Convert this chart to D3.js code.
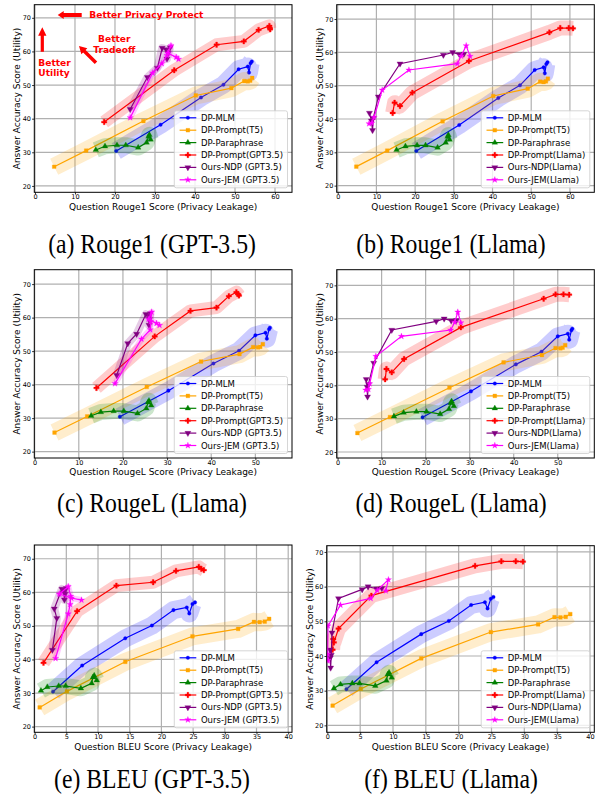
<!DOCTYPE html>
<html><head><meta charset="utf-8">
<script src="https://cdn.jsdelivr.net/npm/d3@7"></script>
<style>body{margin:0;background:#fff}</style>
</head><body>
<svg id="chart" width="601" height="794"></svg>
<script>
// ---------------- DATA ----------------
const yTicks = [20, 30, 40, 50, 60, 70];
const rouge1Ticks = [0, 10, 20, 30, 40, 50, 60];
const rougeLTicks = [0, 10, 20, 30, 40, 50];
const bleuTicks = [0, 5, 10, 15, 20, 25, 30, 35, 40];

// shared baselines (y = answer accuracy)
const mlmY = [30.4, 38.2, 46.3, 50.1, 54.7, 55.5, 53.7, 56.5, 57.0];
const mlmXRouge1 = [20.3, 31.4, 41.5, 47.1, 50.9, 53.2, 53.5, 53.9, 54.2];
const mlmXRougeL = [19.3, 30.3, 40.5, 46.3, 50.0, 52.3, 52.6, 53.1, 53.3];
const mlmXBleu = [2.9, 7.5, 14.3, 18.5, 21.9, 24.0, 24.4, 24.9, 25.3];

const t5Y = [25.7, 30.5, 39.3, 46.9, 49.1, 51.2, 51.1, 51.3, 52.1];
const t5XRouge1 = [4.8, 12.8, 27.1, 40.2, 49.1, 52.3, 53.2, 53.8, 54.3];
const t5XRougeL = [4.5, 11.9, 25.4, 37.7, 46.4, 49.5, 50.6, 51.1, 51.7];
const t5XBleu = [0.8, 5.1, 14.3, 24.9, 32.1, 34.6, 35.5, 36.3, 37.0];

const paraY = [30.7, 31.8, 32.1, 32.1, 31.4, 32.9, 34.7, 35.2, 33.8];
const paraXRouge1 = [15.2, 17.5, 20.5, 22.7, 25.8, 27.9, 28.4, 28.6, 28.9];
const paraXRougeL = [12.8, 15.0, 17.9, 20.2, 23.3, 25.3, 25.7, 25.9, 26.4];
const paraXBleu = [1.0, 2.0, 3.8, 4.9, 7.3, 9.0, 9.2, 9.4, 9.8];

// GPT-3.5
const gptY = [39.0, 54.4, 62.0, 63.0, 66.4, 67.6, 67.0, 66.6];
const gptXRouge1 = [17.3, 34.8, 45.4, 52.2, 55.9, 58.6, 58.7, 58.8];
const gptXRougeL = [14.0, 27.2, 35.3, 41.2, 44.0, 45.7, 46.1, 46.3];
const gptXBleu = [1.4, 6.7, 12.9, 18.7, 22.3, 25.9, 26.3, 26.7];

const ndpGptY = [42.8, 52.3, 55.1, 61.0, 60.6, 57.8, 59.5, 61.2];
const ndpGptXRouge1 = [23.8, 28.1, 30.6, 31.8, 32.8, 33.0, 33.3, 33.8];
const ndpGptXRougeL = [18.6, 21.1, 23.1, 25.2, 25.8, 25.9, 26.0, 26.2];
const ndpGptXBleu = [2.8, 3.5, 3.1, 4.3, 4.6, 4.7, 4.8, 5.0];

const jemGptY = [40.3, 53.6, 56.4, 58.8, 61.7, 59.5, 58.3, 57.7];
const jemGptXRouge1 = [23.8, 29.4, 31.7, 33.0, 34.0, 33.2, 35.3, 35.9];
const jemGptXRougeL = [18.2, 24.2, 26.2, 26.3, 26.5, 25.8, 27.6, 28.3];
const jemGptXBleu = [3.3, 5.3, 5.6, 5.7, 5.3, 3.9, 5.8, 7.4];

// Llama
const llamaY = [41.8, 44.9, 43.9, 47.9, 57.4, 66.0, 67.3, 67.3, 67.2];
const llamaXRouge1 = [14.2, 14.7, 16.1, 19.3, 33.9, 54.7, 57.5, 59.7, 60.8];
const llamaXRougeL = [10.8, 11.1, 12.3, 15.1, 28.0, 46.8, 49.5, 51.3, 52.6];
const llamaXBleu = [0.8, 0.9, 1.0, 1.7, 6.7, 22.5, 26.5, 28.7, 29.8];

const ndpLlamaY = [41.8, 39.5, 36.6, 40.3, 46.7, 56.6, 59.2, 60.0, 59.4, 59.5];
const ndpLlamaXRouge1 = [8.2, 8.7, 9.0, 9.2, 10.5, 16.1, 27.3, 29.7, 31.4, 32.6];
const ndpLlamaXRougeL = [6.5, 6.7, 6.8, 7.0, 8.2, 12.3, 22.4, 24.2, 25.8, 27.0];
const ndpLlamaXBleu = [0.4, 0.45, 0.5, 0.6, 0.7, 1.7, 5.3, 6.2, 7.5, 8.3];

const jemLlamaY = [38.6, 38.8, 40.5, 48.7, 54.7, 56.6, 58.9, 62.0, 58.8];
const jemLlamaXRouge1 = [8.1, 8.8, 9.4, 11.5, 18.4, 30.9, 31.9, 33.2, 34.2];
const jemLlamaXRougeL = [6.4, 7.0, 7.3, 8.7, 14.5, 25.7, 26.6, 27.3, 28.0];
const jemLlamaXBleu = [0.0, 0.1, 0.05, 0.1, 2.0, 6.6, 7.6, 9.3, 8.9];

const legendGpt = ["DP-MLM", "DP-Prompt(T5)", "DP-Paraphrase", "DP-Prompt(GPT3.5)", "Ours-NDP (GPT3.5)", "Ours-JEM (GPT3.5)"];
const legendLlama = ["DP-MLM", "DP-Prompt(T5)", "DP-Paraphrase", "DP-Prompt(Llama)", "Ours-NDP(Llama)", "Ours-JEM(Llama)"];
const captions = ["(a) Rouge1 (GPT-3.5)", "(b) Rouge1 (Llama)", "(c) RougeL (Llama)", "(d) RougeL (Llama)", "(e) BLEU (GPT-3.5)", "(f) BLEU (Llama)"];
const xLabels = {Rouge1: "Question Rouge1 Score (Privacy Leakage)", RougeL: "Question RougeL Score (Privacy Leakage)", BLEU: "Question BLEU Score (Privacy Leakage)"};
const yLabel = "Answer Accuracy Score (Utility)";

// ---------------- LOOKUPS ----------------
const mlmX = {Rouge1: mlmXRouge1, RougeL: mlmXRougeL, BLEU: mlmXBleu};
const t5X = {Rouge1: t5XRouge1, RougeL: t5XRougeL, BLEU: t5XBleu};
const paraX = {Rouge1: paraXRouge1, RougeL: paraXRougeL, BLEU: paraXBleu};
const gptX = {Rouge1: gptXRouge1, RougeL: gptXRougeL, BLEU: gptXBleu};
const ndpGptX = {Rouge1: ndpGptXRouge1, RougeL: ndpGptXRougeL, BLEU: ndpGptXBleu};
const jemGptX = {Rouge1: jemGptXRouge1, RougeL: jemGptXRougeL, BLEU: jemGptXBleu};
const llamaX = {Rouge1: llamaXRouge1, RougeL: llamaXRougeL, BLEU: llamaXBleu};
const ndpLlamaX = {Rouge1: ndpLlamaXRouge1, RougeL: ndpLlamaXRougeL, BLEU: ndpLlamaXBleu};
const jemLlamaX = {Rouge1: jemLlamaXRouge1, RougeL: jemLlamaXRougeL, BLEU: jemLlamaXBleu};
const tickSets = {Rouge1: rouge1Ticks, RougeL: rougeLTicks, BLEU: bleuTicks};

function seriesFor(metric, llm) {
  const lab = llm === "gpt" ? legendGpt : legendLlama;
  const s = [
    {x: mlmX[metric], y: mlmY, color: "#0000ff", sym: "circle", band: 18},
    {x: t5X[metric], y: t5Y, color: "#ffa500", sym: "square", band: 18},
    {x: paraX[metric], y: paraY, color: "#008000", sym: "tri", band: 16}
  ];
  if (llm === "gpt") {
    s.push({x: gptX[metric], y: gptY, color: "#ff0000", sym: "plus", band: 13});
    s.push({x: ndpGptX[metric], y: ndpGptY, color: "#800080", sym: "trid", band: 8});
    s.push({x: jemGptX[metric], y: jemGptY, color: "#ff00ff", sym: "star", band: 6});
  } else {
    s.push({x: llamaX[metric], y: llamaY, color: "#ff0000", sym: "plus", band: 15});
    s.push({x: ndpLlamaX[metric], y: ndpLlamaY, color: "#800080", sym: "trid", band: 0});
    s.push({x: jemLlamaX[metric], y: jemLlamaY, color: "#ff00ff", sym: "star", band: 0});
  }
  s.forEach((d, i) => d.label = lab[i]);
  return s;
}

// ---------------- LAYOUT ----------------
const panels = [
  {metric: "Rouge1", llm: "gpt",   L: 34.3,  R: 292,   T: 4.7,   B: 192.3, xd: [-0.17, 64.25], yd: [18.1, 73.9], capX: 152, capY: 252.5},
  {metric: "Rouge1", llm: "llama", L: 336.7, R: 594.3, T: 4.7,   B: 192.3, xd: [-0.26, 66.3],  yd: [18.0, 74.3], capX: 451, capY: 252.5},
  {metric: "RougeL", llm: "gpt",   L: 34.3,  R: 292,   T: 269.7, B: 458,   xd: [-0.08, 58.3],  yd: [18.1, 74.3], capX: 152, capY: 512.3},
  {metric: "RougeL", llm: "llama", L: 336.7, R: 594.3, T: 269.7, B: 458,   xd: [-0.2, 58.3],   yd: [18.2, 74.7], capX: 451, capY: 512.3},
  {metric: "BLEU",   llm: "gpt",   L: 34.3,  R: 292,   T: 545,   B: 732.3, xd: [-0.05, 40.6],  yd: [18.3, 74.1], capX: 152, capY: 788},
  {metric: "BLEU",   llm: "llama", L: 326.7, R: 594.3, T: 545.7, B: 732.3, xd: [-0.1, 40.66],  yd: [18.0, 71.8], capX: 451, capY: 788}
];

const svg = d3.select("#chart");
svg.append("rect").attr("width", 601).attr("height", 794).attr("fill", "#fff");
const defs = svg.append("defs");
const FONT = "DejaVu Sans, Verdana, sans-serif";

const symTypes = {
  circle: d3.symbolCircle, square: d3.symbolSquare, tri: d3.symbolTriangle,
  trid: d3.symbolTriangle, plus: d3.symbolCross, star: d3.symbolStar
};
const symSizes = {circle: 10, square: 14, tri: 14, trid: 16, plus: 16, star: 12};

function drawMarker(g, sym, color, x, y) {
  g.append("path")
    .attr("d", d3.symbol().type(symTypes[sym]).size(symSizes[sym])())
    .attr("transform", `translate(${x},${y})` + (sym === "trid" ? " rotate(180)" : ""))
    .attr("fill", color).attr("stroke", color).attr("stroke-width", 0.3);
}

panels.forEach((p, pi) => {
  const x = d3.scaleLinear().domain(p.xd).range([p.L, p.R]);
  const y = d3.scaleLinear().domain(p.yd).range([p.B, p.T]);
  const g = svg.append("g");
  const clipId = "clip" + pi;
  defs.append("clipPath").attr("id", clipId).append("rect")
    .attr("x", p.L).attr("y", p.T).attr("width", p.R - p.L).attr("height", p.B - p.T);

  const xt = tickSets[p.metric];
  // grid
  const grid = g.append("g").attr("stroke", "#b0b0b0").attr("stroke-width", 1.2);
  xt.forEach(t => grid.append("line").attr("x1", x(t)).attr("x2", x(t)).attr("y1", p.T).attr("y2", p.B));
  yTicks.forEach(t => grid.append("line").attr("x1", p.L).attr("x2", p.R).attr("y1", y(t)).attr("y2", y(t)));

  // axes
  const xAxis = d3.axisBottom(x).tickValues(xt).tickSize(2.2).tickPadding(0.2).tickFormat(d3.format("d"));
  const yAxis = d3.axisLeft(y).tickValues(yTicks).tickSize(2.2).tickPadding(1.2).tickFormat(d3.format("d"));
  const gx = g.append("g").attr("transform", `translate(0,${p.B})`).call(xAxis);
  const gy = g.append("g").attr("transform", `translate(${p.L},0)`).call(yAxis);
  [gx, gy].forEach(a => {
    a.select(".domain").remove();
    a.selectAll("text").attr("font-family", FONT).attr("font-size", 6.5).attr("fill", "#000");
    a.selectAll("line").attr("stroke", "#000").attr("stroke-width", 0.8);
  });

  // data
  const series = seriesFor(p.metric, p.llm);
  const plot = g.append("g").attr("clip-path", `url(#${clipId})`);
  const line = d3.line().x(d => x(d[0])).y(d => y(d[1]));
  series.forEach(s => {
    const pts = s.x.map((v, i) => [v, s.y[i]]);
    if (s.band > 0) {
      plot.append("path").attr("d", line(pts)).attr("fill", "none")
        .attr("stroke", s.color).attr("stroke-opacity", 0.2)
        .attr("stroke-width", s.band).attr("stroke-linejoin", "round").attr("stroke-linecap", "butt");
    }
    plot.append("path").attr("d", line(pts)).attr("fill", "none")
      .attr("stroke", s.color).attr("stroke-width", 1.2);
    pts.forEach(d => drawMarker(plot, s.sym, s.color, x(d[0]), y(d[1])));
  });

  // frame
  g.append("rect").attr("x", p.L).attr("y", p.T).attr("width", p.R - p.L).attr("height", p.B - p.T)
    .attr("fill", "none").attr("stroke", "#000").attr("stroke-width", 1);

  // axis labels
  g.append("text").attr("x", (p.L + p.R) / 2).attr("y", p.B + 17.2)
    .attr("text-anchor", "middle").attr("font-family", FONT).attr("font-size", 9).attr("fill", "#000")
    .text(xLabels[p.metric]);
  g.append("text").attr("transform", `translate(${p.L - 17},${(p.T + p.B) / 2}) rotate(-90)`)
    .attr("text-anchor", "middle").attr("dominant-baseline", "central")
    .attr("font-family", FONT).attr("font-size", 9).attr("fill", "#000").text(yLabel);

  // legend
  const lg = g.append("g");
  const rowH = 12.4;
  const lgH = 7 + 5 * rowH + 8;
  const texts = [];
  const tmp = lg.append("g");
  series.forEach((s, i) => {
    texts.push(tmp.append("text").attr("font-family", FONT).attr("font-size", 8.5).text(s.label));
  });
  const maxW = d3.max(texts, t => t.node().getComputedTextLength());
  tmp.remove();
  const lgW = 26.6 + maxW + 4.5;
  const lx = p.R - 4.5 - lgW, ly = p.B - 4.5 - lgH;
  lg.append("rect").attr("x", lx).attr("y", ly).attr("width", lgW).attr("height", lgH)
    .attr("rx", 2).attr("fill", "#fff").attr("fill-opacity", 0.8)
    .attr("stroke", "#cccccc").attr("stroke-width", 0.8);
  series.forEach((s, i) => {
    const cy = ly + 7 + i * rowH;
    lg.append("line").attr("x1", lx + 5.3).attr("x2", lx + 22).attr("y1", cy).attr("y2", cy)
      .attr("stroke", s.color).attr("stroke-width", 1.2);
    drawMarker(lg, s.sym, s.color, lx + 13.6, cy);
    lg.append("text").attr("x", lx + 26.6).attr("y", cy).attr("dominant-baseline", "central")
      .attr("font-family", FONT).attr("font-size", 8.5).attr("fill", "#000").text(s.label);
  });

  // caption
  svg.append("text").attr("transform", `translate(${p.capX},${p.capY}) scale(1,1.12)`)
    .attr("text-anchor", "middle").attr("font-family", "Liberation Serif, Times New Roman, serif")
    .attr("font-size", 23.7).attr("fill", "#000").text(captions[pi]);
});

// ---------------- ANNOTATIONS (panel a) ----------------
function arrow(x1, y1, x2, y2, sw, hw, hl) {
  const dx = x2 - x1, dy = y2 - y1, len = Math.hypot(dx, dy);
  const ux = dx / len, uy = dy / len, nx = -uy, ny = ux;
  const bx = x2 - ux * hl, by = y2 - uy * hl;
  const pts = [
    [x1 + nx * sw / 2, y1 + ny * sw / 2], [bx + nx * sw / 2, by + ny * sw / 2],
    [bx + nx * hw / 2, by + ny * hw / 2], [x2, y2],
    [bx - nx * hw / 2, by - ny * hw / 2], [bx - nx * sw / 2, by - ny * sw / 2],
    [x1 - nx * sw / 2, y1 - ny * sw / 2]
  ];
  svg.append("polygon").attr("points", pts.map(p => p.join(",")).join(" ")).attr("fill", "#ff0000");
}
arrow(81.7, 15, 57.7, 15, 4, 8, 6);
arrow(42.3, 51.7, 42.3, 27.3, 3.2, 8.3, 8.5);
arrow(96, 62.7, 79, 46, 3.5, 8.5, 7.5);
const ann = svg.append("g").attr("font-family", FONT).attr("font-weight", "bold")
  .attr("font-size", 9.1).attr("fill", "#ff0000");
ann.append("text").attr("x", 89.3).attr("y", 17.6).text("Better Privacy Protect");
ann.append("text").attr("x", 38.3).attr("y", 65.6).text("Better");
ann.append("text").attr("x", 38.3).attr("y", 76).text("Utility");
ann.append("text").attr("x", 114.3).attr("y", 41.6).attr("text-anchor", "middle").text("Better");
ann.append("text").attr("x", 114.3).attr("y", 53.3).attr("text-anchor", "middle").text("Tradeoff");
</script>
</body></html>
